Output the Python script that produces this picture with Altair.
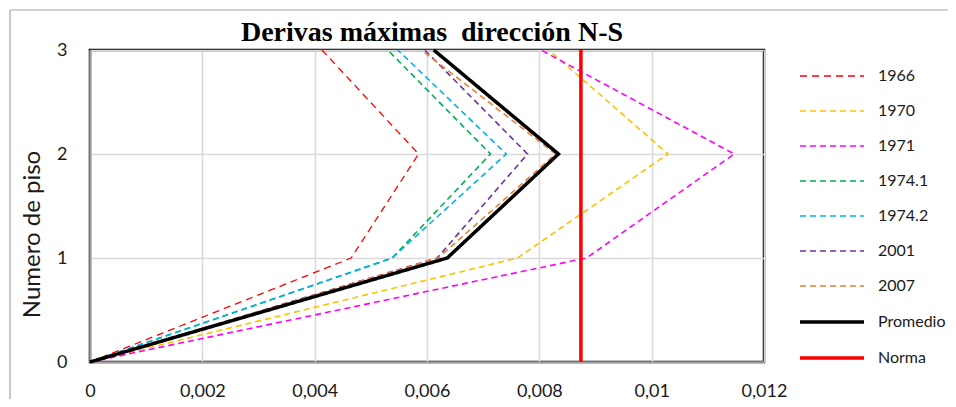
import altair as alt
import pandas as pd

floors = [0, 1, 2, 3]
series = ["1966", "1970", "1971", "1974.1", "1974.2", "2001", "2007", "Promedio", "Norma"]
d1966 = [0, 0.00465, 0.00585, 0.00413]
d1970 = [0, 0.00761, 0.01029, 0.00817]
d1971 = [0, 0.00884, 0.01147, 0.00803]
d1974_1 = [0, 0.00538, 0.00713, 0.00530]
d1974_2 = [0, 0.00538, 0.00741, 0.00548]
d2001 = [0, 0.00618, 0.00779, 0.00596]
d2007 = [0, 0.00620, 0.00829, 0.00590]
promedio = [0, 0.00636, 0.00834, 0.00612]
norma_value = 0.00874
norma_floors = [0, 3]

x_ticks = [0, 0.002, 0.004, 0.006, 0.008, 0.01, 0.012]
y_ticks = [0, 1, 2, 3]

colors = ["#FF0000", "#FFC000", "#FF00FF", "#00B050", "#00B0F0", "#7030A0", "#ED7D31", "#000000", "#FF0000"]
dashes = [[7, 5], [6, 4], [6, 4], [6, 4], [6, 4], [6, 4], [6, 4], [1, 0], [1, 0]]
widths = [1.3, 1.6, 1.6, 1.6, 1.6, 1.6, 1.6, 3.5, 3.5]

rows = []
for name, vals in zip(series[:8], [d1966, d1970, d1971, d1974_1, d1974_2, d2001, d2007, promedio]):
    for f, v in zip(floors, vals):
        rows.append({"serie": name, "deriva": v, "piso": f})
for f in norma_floors:
    rows.append({"serie": "Norma", "deriva": norma_value, "piso": f})
df = pd.DataFrame(rows)

W, H = 674, 312

legend = alt.Legend(
    title=None, orient="none", legendX=724, legendY=9,
    symbolType="M-2,0H2", symbolSize=1024, labelOffset=28, rowPadding=10,
    labelFont="Lato", labelFontSize=16, labelColor="#1a1a1a",
)

lines = alt.Chart(df).mark_line(clip=False).encode(
    x=alt.X("deriva:Q", scale=alt.Scale(domain=[0, 0.012], nice=False),
            axis=alt.Axis(values=x_ticks, title=None, ticks=False, tickSize=0,
                          labelExpr="replace(toString(datum.value), '.', ',')",
                          labelPadding=20, labelFont="Lato", labelFontSize=18,
                          labelColor="#1a1a1a", labelFlush=False)),
    y=alt.Y("piso:Q", scale=alt.Scale(domain=[0, 3], nice=False),
            axis=alt.Axis(values=y_ticks, title="Numero de piso", ticks=False, tickSize=0,
                          labelPadding=23, labelFont="Lato", labelFontSize=18,
                          labelColor="#1a1a1a", titleFont="Lato", titleFontSize=24,
                          titleFontWeight="normal", titleColor="#1a1a1a", titlePadding=12,
                          titleY=184)),
    color=alt.Color("serie:N", scale=alt.Scale(domain=series, range=colors), legend=legend),
    strokeDash=alt.StrokeDash("serie:N", scale=alt.Scale(domain=series, range=dashes), legend=legend),
    strokeWidth=alt.StrokeWidth("serie:N", scale=alt.Scale(type="ordinal", domain=series, range=widths), legend=legend),
    order=alt.Order("piso:Q"),
)

one = pd.DataFrame({"a": [0]})
frame_top = alt.Chart(one).mark_rule(stroke="#a6a6a6", strokeWidth=1.2).encode(
    x=alt.value(-80), x2=alt.value(1000), y=alt.value(-40)
)
frame_left = alt.Chart(one).mark_rule(stroke="#a6a6a6", strokeWidth=1.2).encode(
    x=alt.value(-80), y=alt.value(-40), y2=alt.value(500)
)

chart = alt.layer(frame_top, frame_left, lines).properties(
    width=W, height=H,
    title=alt.TitleParams("Derivas máximas \u00a0dirección N-S", font="Liberation Serif",
                          fontSize=28, fontWeight="bold", color="#000000",
                          anchor="middle", frame="group", baseline="alphabetic", offset=-60, dx=5),
    autosize=alt.AutoSizeParams(type="none"),
    padding={"left": 82, "top": 42, "right": 184, "bottom": 37},
).configure_view(
    stroke="#000000", strokeWidth=2.5
).configure_axis(
    gridColor="#d9d9d9", gridWidth=1.5, domainColor="#a6a6a6", domainWidth=2
)

chart.save("out.html", embed_options={"renderer": "svg", "actions": False})
